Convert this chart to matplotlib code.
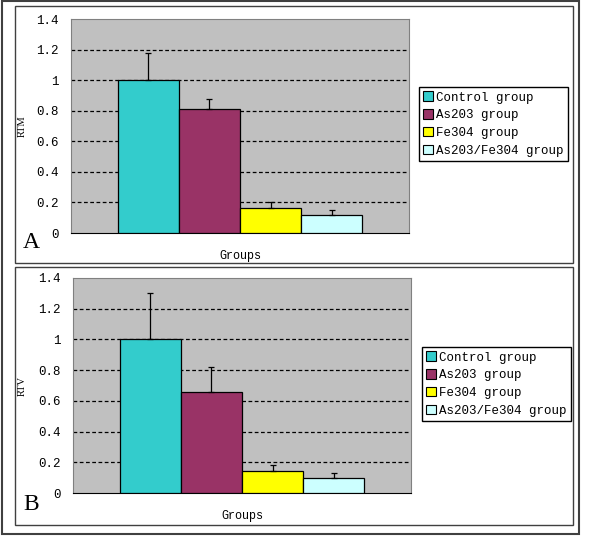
import matplotlib
matplotlib.use("Agg")
import matplotlib.pyplot as plt
from matplotlib.patches import Rectangle, Patch

groups = ["Control group", "As203 group", "Fe304 group", "As203/Fe304 group"]
colors = ["#33CCCC", "#993366", "#FFFF00", "#CCFFFF"]
rtm = [1.0, 0.81, 0.165, 0.118]
rtm_err = [0.18, 0.068, 0.035, 0.032]
rtv = [1.0, 0.66, 0.143, 0.10]
rtv_err = [0.30, 0.16, 0.04, 0.03]
yticks = [0, 0.2, 0.4, 0.6, 0.8, 1, 1.2, 1.4]
yticklabels = ["0", "0.2", "0.4", "0.6", "0.8", "1", "1.2", "1.4"]

W, H = 600, 547
fig = plt.figure(figsize=(W / 100, H / 100), dpi=100)
mono = "Liberation Mono"


def px_rect(x0, y0, x1, y1):
    # pixel box (top-left origin) -> figure fraction [l, b, w, h]
    return [x0 / W, 1 - y1 / H, (x1 - x0) / W, (y1 - y0) / H]


def frame(x0, y0, x1, y1, lw=1.0, color="black"):
    l, b, w, h = px_rect(x0, y0, x1, y1)
    fig.add_artist(Rectangle((l, b), w, h, transform=fig.transFigure,
                             fill=False, edgecolor=color, linewidth=lw))


# outer frame and panel frames
frame(2, 0.5, 579, 534, lw=1.5, color="#404040")
frame(15, 6, 573, 263, lw=1.0, color="#404040")
frame(15, 267, 573, 525, lw=1.0, color="#404040")


def panel(box, vals, errs, ylabel, letter, legbox, lettery, groupsy):
    ax = fig.add_axes(px_rect(*box))
    ax.set_facecolor("#C0C0C0")
    x = [0, 1, 2, 3]
    ax.bar(x, vals, width=1.0, color=colors, edgecolor="black", linewidth=0.9,
           zorder=3)
    ax.errorbar(x, vals, yerr=[[0] * 4, errs], fmt="none", ecolor="black",
                elinewidth=0.9, capsize=2.5, capthick=0.9, zorder=4)
    ax.set_xlim(-1.27, 4.27)
    ax.set_ylim(0, 1.4)
    ax.set_yticks(yticks)
    ax.set_yticklabels(yticklabels, fontfamily=mono, fontsize=9)
    ax.set_xticks([])
    for yv in yticks[1:-1]:
        ax.axhline(yv, color="black", linestyle=(0, (3, 2)), linewidth=0.9,
                   zorder=1)
    ax.tick_params(axis="y", length=0, pad=9)
    for s in ["top", "right", "left"]:
        ax.spines[s].set_color("#808080")
    ax.spines["bottom"].set_color("black")
    cx = (box[0] + box[2]) / 2
    cy = (box[1] + box[3]) / 2
    fig.text(22 / W, 1 - cy / H, ylabel, fontfamily="Liberation Serif",
             fontsize=7.5, rotation=90, ha="center", va="center")
    fig.text(cx / W, 1 - groupsy / H, "Groups", fontfamily=mono,
             fontsize=8.5, ha="center", va="center")
    fig.text(23 / W, 1 - lettery / H, letter, fontfamily="Liberation Serif",
             fontsize=17, ha="left", va="center")
    handles = [Patch(facecolor=c, edgecolor="black", linewidth=0.8)
               for c in colors]
    l, b, w, h = px_rect(*legbox)
    leg = fig.legend(handles, groups, loc="upper left",
                     bbox_to_anchor=(l, b + h), bbox_transform=fig.transFigure,
                     prop={"family": mono, "size": 9},
                     handlelength=0.8, handleheight=0.8, handletextpad=0.2,
                     labelspacing=0.45, borderpad=0.35, borderaxespad=0,
                     fancybox=False, edgecolor="black", framealpha=1)
    leg.get_frame().set_linewidth(1.0)
    return ax


panel((71, 19, 409, 233), rtm, rtm_err, "RTM", "A", (419, 87, 572, 164),
      243, 256)
panel((73, 278, 411, 493), rtv, rtv_err, "RTV", "B", (422, 347, 572, 424),
      504, 516)

fig.savefig("out.png", dpi=100, facecolor="white")
